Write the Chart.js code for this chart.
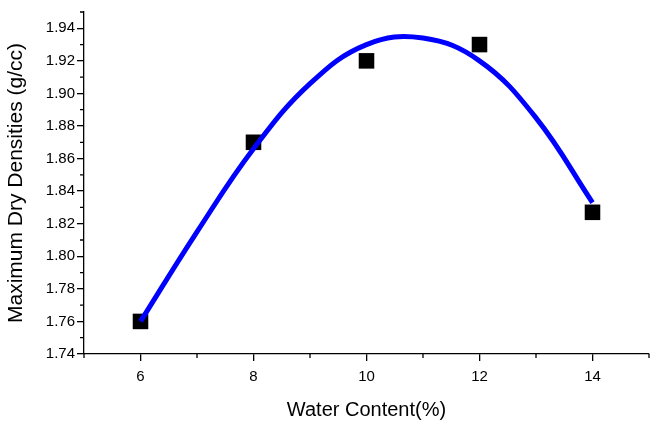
<!DOCTYPE html>
<html>
<head>
<meta charset="utf-8">
<script src="https://cdn.jsdelivr.net/npm/chart.js@4/dist/chart.umd.min.js"></script>
<style>
  html, body { margin: 0; padding: 0; background: #ffffff; }
  #wrap { width: 660px; height: 423px; position: relative; }
</style>
</head>
<body>
<div id="wrap"><canvas id="c" width="660" height="423"></canvas></div>
<script>
// Measured points (water content %, max dry density g/cc)
const waterContent = [6, 8, 10, 12, 14];
const dryDensity = [1.76, 1.87, 1.92, 1.93, 1.827];

// Fitted curve
const curveX = [6, 7, 8, 9, 10, 11, 12, 13, 14];
const curveY = [1.760, 1.815, 1.866, 1.906, 1.930, 1.934, 1.920, 1.885, 1.833];

// Axis ticks
const xMajor = [6, 8, 10, 12, 14];
const xMinor = [5, 7, 9, 11, 13, 15];
const yMajor = [1.74, 1.76, 1.78, 1.80, 1.82, 1.84, 1.86, 1.88, 1.90, 1.92, 1.94];
const yMinor = [1.75, 1.77, 1.79, 1.81, 1.83, 1.85, 1.87, 1.89, 1.91, 1.93, 1.95];

const FONT = "'Liberation Sans', Arial, sans-serif";

const minorTicks = {
  id: 'minorTicks',
  afterDraw(chart) {
    const ctx = chart.ctx;
    const xs = chart.scales.x, ys = chart.scales.y;
    ctx.save();
    ctx.strokeStyle = '#000';
    ctx.lineWidth = 1.3;
    ctx.beginPath();
    xMinor.forEach(v => {
      const px = xs.getPixelForValue(v);
      ctx.moveTo(px, ys.bottom);
      ctx.lineTo(px, ys.bottom + 4);
    });
    yMinor.forEach(v => {
      const py = ys.getPixelForValue(v);
      ctx.moveTo(xs.left, py);
      ctx.lineTo(xs.left - 4, py);
    });
    ctx.stroke();
    ctx.restore();
  }
};

new Chart(document.getElementById('c'), {
  data: {
    datasets: [
      {
        type: 'line',
        data: curveX.map((x, i) => ({ x: x, y: curveY[i] })),
        borderColor: '#0000ff',
        borderWidth: 5,
        pointRadius: 0,
        tension: 0.4,
        fill: false
      },
      {
        type: 'scatter',
        data: waterContent.map((x, i) => ({ x: x, y: dryDensity[i] })),
        pointStyle: 'rect',
        pointRadius: 11,
        backgroundColor: '#000000',
        borderWidth: 0
      }
    ]
  },
  options: {
    responsive: false,
    animation: false,
    devicePixelRatio: 1,
    layout: { padding: { left: 0, right: 7, top: 12, bottom: 0 } },
    plugins: { legend: { display: false }, tooltip: { enabled: false } },
    scales: {
      x: {
        type: 'linear',
        min: 5, max: 15,
        afterFit(s) { s.height = 69; },
        afterBuildTicks(s) { s.ticks = xMajor.map(v => ({ value: v })); },
        grid: { drawOnChartArea: false, drawTicks: true, tickLength: 7, color: '#000', lineWidth: 1.3 },
        border: { display: true, color: '#000', width: 1.3 },
        ticks: { color: '#000', font: { family: FONT, size: 15 }, padding: 7, maxRotation: 0,
                 callback: v => String(v) },
        title: { display: true, text: 'Water Content(%)', color: '#000',
                 font: { family: FONT, size: 20, lineHeight: 1 }, padding: { top: 0, bottom: 3 } }
      },
      y: {
        type: 'linear',
        min: 1.74, max: 1.95,
        afterFit(s) { s.width = 84; },
        afterBuildTicks(s) { s.ticks = yMajor.map(v => ({ value: v })); },
        grid: { drawOnChartArea: false, drawTicks: true, tickLength: 7, color: '#000', lineWidth: 1.3 },
        border: { display: true, color: '#000', width: 1.3 },
        ticks: { color: '#000', font: { family: FONT, size: 15 }, padding: 2,
                 callback: v => Number(v).toFixed(2) },
        title: { display: true, text: 'Maximum Dry Densities (g/cc)', color: '#000',
                 font: { family: FONT, size: 21, lineHeight: 1 }, padding: { top: 6, bottom: 0 } }
      }
    }
  },
  plugins: [minorTicks]
});
</script>
</body>
</html>
